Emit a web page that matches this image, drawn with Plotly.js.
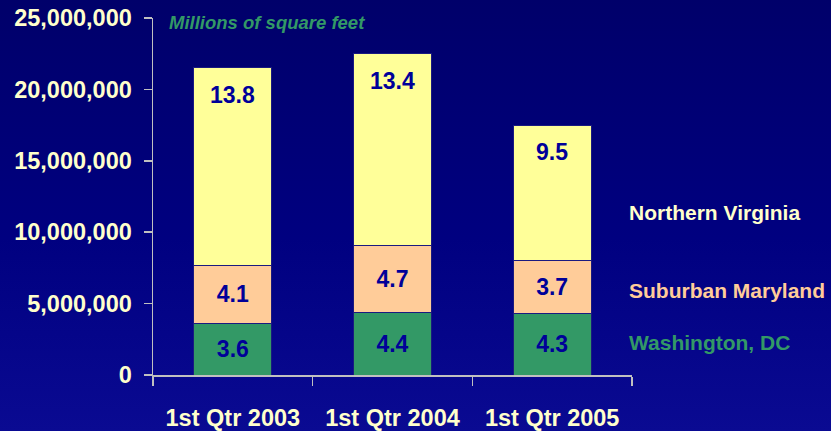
<!DOCTYPE html>
<html>
<head>
<meta charset="utf-8">
<script src="https://cdn.plot.ly/plotly-3.0.1.min.js"></script>
<style>
  html, body { margin: 0; padding: 0; }
  body { width: 831px; height: 431px; background: linear-gradient(to bottom, #00006a 0%, #000080 55%, #0a0a92 100%); }
  #chart { width: 831px; height: 431px; }
</style>
</head>
<body>
<div id="chart"></div>
<script>
const categories = ["1st Qtr 2003", "1st Qtr 2004", "1st Qtr 2005"];
const washingtonDC = [3600000, 4400000, 4300000];
const suburbanMaryland = [4100000, 4700000, 3700000];
const northernVirginia = [13800000, 13400000, 9500000];
const seriesNames = ["Washington, DC", "Suburban Maryland", "Northern Virginia"];
const yTickVals = [0, 5000000, 10000000, 15000000, 20000000, 25000000];

const FONT = "Arial, 'Liberation Sans', sans-serif";
const colors = ["#339966", "#ffcc99", "#ffff99"];
const labelColor = "#000099";
const allSeries = [washingtonDC, suburbanMaryland, northernVirginia];
const fmt = v => (v / 1e6).toFixed(1);

const traces = allSeries.map((vals, i) => ({
  type: "bar",
  name: seriesNames[i],
  x: categories,
  y: vals,
  text: i === 2 ? vals.map(() => "") : vals.map(fmt),
  textposition: i === 2 ? "none" : "inside",
  insidetextanchor: "middle",
  textangle: 0,
  textfont: { family: FONT, size: 23, color: labelColor, weight: "bold" },
  marker: { color: colors[i], line: { color: "#1a1a80", width: 1 } },
  hoverinfo: "skip"
}));

const annotations = [];
// top-segment labels placed near the top of each stack
categories.forEach((c, k) => {
  const top = washingtonDC[k] + suburbanMaryland[k] + northernVirginia[k];
  annotations.push({
    xref: "x", yref: "y", x: c, y: top,
    yanchor: "top", yshift: -12,
    text: "<b>" + fmt(northernVirginia[k]) + "</b>",
    showarrow: false,
    font: { family: FONT, size: 23, color: labelColor }
  });
});

const legendY = [2300000, 5900000, 11350000];
const legendColors = ["#339966", "#ffcc99", "#ffffcc"];
seriesNames.forEach((n, i) => annotations.push({
  xref: "paper", yref: "y",
  x: 1.0, xanchor: "left", xshift: -5,
  y: legendY[i], yanchor: "middle",
  text: "<b>" + n + "</b>",
  showarrow: false,
  font: { family: FONT, size: 21, color: legendColors[i] }
}));
annotations.push({
  xref: "paper", yref: "paper",
  x: 0, xanchor: "left", xshift: 14,
  y: 1, yanchor: "middle", yshift: -4,
  text: "<b><i>Millions of square feet</i></b>",
  showarrow: false,
  font: { family: FONT, size: 18.5, color: "#339966" }
});

const layout = {
  width: 831, height: 431,
  margin: { l: 153, r: 199, t: 18, b: 56 },
  paper_bgcolor: "rgba(0,0,0,0)",
  plot_bgcolor: "rgba(0,0,0,0)",
  barmode: "stack",
  bargap: 0.51,
  showlegend: false,
  xaxis: {
    type: "category",
    range: [-0.5, 2.5],
    showline: true, linecolor: "#c0c0c0", linewidth: 1.5,
    ticks: "outside", tickson: "boundaries", ticklen: 9, tickcolor: "#c0c0c0", tickwidth: 1.5,
    tickfont: { family: FONT, size: 23.5, color: "#ffffcc", weight: "bold" },
    ticklabelstandoff: 21,
    showgrid: false, zeroline: false,
    fixedrange: true
  },
  yaxis: {
    range: [0, 25000000],
    tickvals: yTickVals,
    tickformat: ",d",
    showline: true, linecolor: "#c0c0c0", linewidth: 1.5,
    ticks: "outside", ticklen: 8, tickcolor: "#c0c0c0", tickwidth: 1.5,
    tickfont: { family: FONT, size: 23.5, color: "#ffffcc", weight: "bold" },
    ticklabelstandoff: 7,
    showgrid: false, zeroline: false,
    fixedrange: true
  },
  annotations: annotations
};

Plotly.newPlot("chart", traces, layout, { displayModeBar: false, staticPlot: true });
</script>
</body>
</html>
